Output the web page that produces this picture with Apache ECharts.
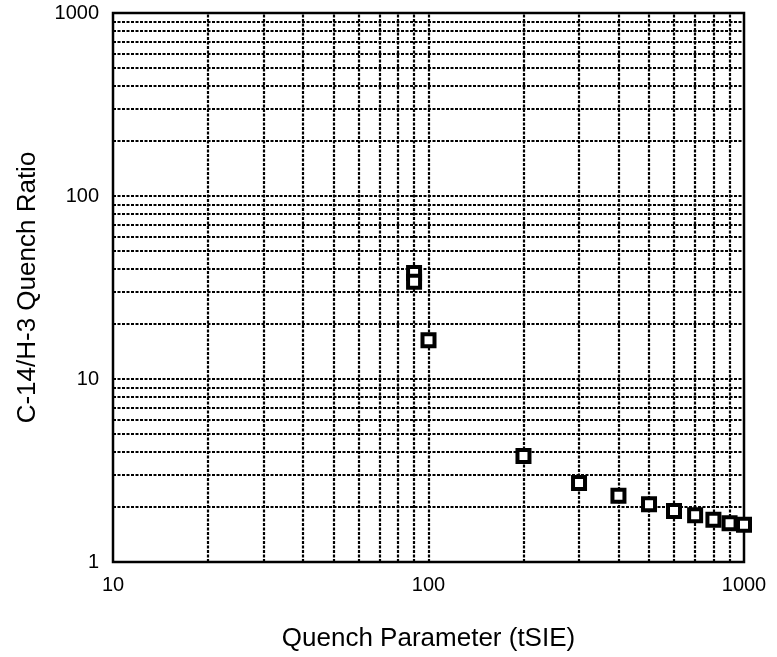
<!DOCTYPE html>
<html>
<head>
<meta charset="utf-8">
<script src="https://cdn.jsdelivr.net/npm/echarts@6/dist/echarts.min.js"></script>
<style>
html,body{margin:0;padding:0;background:#fff;}
#chart{width:777px;height:657px;}
</style>
</head>
<body>
<div id="chart"></div>
<script>
const quenchParam = [90, 90, 100, 200, 300, 400, 500, 600, 700, 800, 900, 1000];
const quenchRatio = [38, 34, 16.3, 3.8, 2.7, 2.3, 2.07, 1.9, 1.8, 1.7, 1.63, 1.6];
const xGridValues = [20, 30, 40, 50, 60, 70, 80, 90, 100, 200, 300, 400, 500, 600, 700, 800, 900];
const yGridValues = [2, 3, 4, 5, 6, 7, 8, 9, 10, 20, 30, 40, 50, 60, 70, 80, 90, 100, 200, 300, 400, 500, 600, 700, 800, 900];
const xTitle = 'Quench Parameter (tSIE)';
const yTitle = 'C-14/H-3 Quench Ratio';

const font = '"Liberation Sans", Arial, Helvetica, sans-serif';
const gridStyle = {color: '#000', width: 2.2, type: [3, 1.5]};

const chart = echarts.init(document.getElementById('chart'), null, {renderer: 'canvas'});
const points = quenchParam.map((x, i) => [x, quenchRatio[i]]);
const lines = xGridValues.map(v => ({xAxis: v})).concat(yGridValues.map(v => ({yAxis: v})));
const fmt = v => String(Math.round(v));

chart.setOption({
  animation: false,
  backgroundColor: '#fff',
  grid: {left: 113, right: 33, top: 13, bottom: 94, show: true, borderColor: '#000', borderWidth: 2.5, backgroundColor: 'transparent'},
  xAxis: {
    type: 'log', logBase: 10, min: 10, max: 1000,
    name: xTitle, nameLocation: 'middle', nameGap: 64,
    nameTextStyle: {fontFamily: font, fontSize: 26, color: '#000'},
    axisLine: {show: false}, axisTick: {show: false}, splitLine: {show: false},
    axisLabel: {fontFamily: font, fontSize: 20, color: '#000', margin: 13, formatter: fmt}
  },
  yAxis: {
    type: 'log', logBase: 10, min: 1, max: 1000,
    name: yTitle, nameLocation: 'middle', nameGap: 72, nameRotate: 90,
    nameTextStyle: {fontFamily: font, fontSize: 26, color: '#000'},
    axisLine: {show: false}, axisTick: {show: false}, splitLine: {show: false},
    axisLabel: {fontFamily: font, fontSize: 20, color: '#000', margin: 14, formatter: fmt}
  },
  series: [{
    type: 'scatter',
    data: points,
    symbol: 'rect',
    symbolSize: 12,
    itemStyle: {color: '#fff', borderColor: '#000', borderWidth: 4, opacity: 1},
    z: 5,
    markLine: {
      silent: true, symbol: 'none', animation: false,
      label: {show: false},
      lineStyle: gridStyle,
      data: lines
    }
  }]
});
</script>
</body>
</html>
